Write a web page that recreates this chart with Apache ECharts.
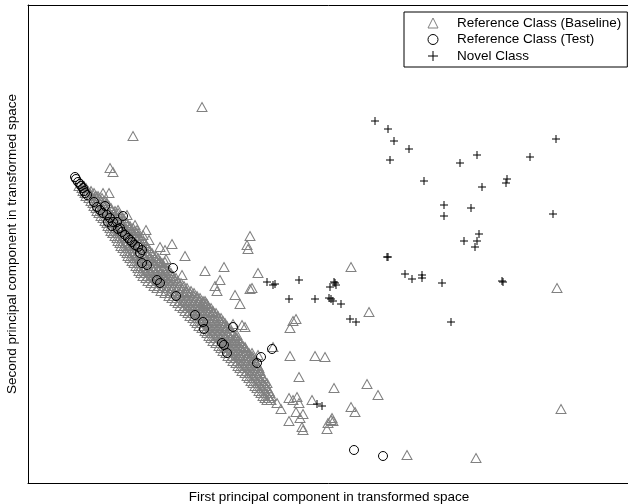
<!DOCTYPE html>
<html>
<head>
<meta charset="utf-8">
<script src="https://cdn.jsdelivr.net/npm/echarts@6/dist/echarts.min.js"></script>
<style>
html,body{margin:0;padding:0;background:#fff;}
#chart{width:628px;height:504px;}
</style>
</head>
<body>
<div id="chart"></div>
<script>
// Axis labels / legend names
const seriesNames = ['Reference Class (Baseline)', 'Reference Class (Test)', 'Novel Class'];
const xAxisTitle = 'First principal component in transformed space';
const yAxisTitle = 'Second principal component in transformed space';

// Reference Class (Baseline): dense diagonal band (main rows)
const baselineBandA = [
  [51,297],[56,297],
  [55,292],[60,292],[63,292],
  [58,287],[63,287],[68,287],[70,287],
  [63,282],[68,282],[73,282],[77,282],
  [66,277],[71,277],[76,277],[81,277],
  [69,272],[74,272],[79,272],[84,272],[87,272],
  [73,267],[78,267],[83,267],[88,267],[93,267],
  [77,262],[82,262],[87,262],[92,262],[97,262],
  [80,257],[85,257],[90,257],[95,257],[100,257],[102,257],
  [83,252],[88,252],[93,252],[98,252],[103,252],[107,252],
  [87,247],[92,247],[97,247],[102,247],[107,247],[111,247],
  [90,242],[95,242],[100,242],[105,242],[110,242],[115,242],
  [93,237],[98,237],[103,237],[108,237],[113,237],[118,237],
  [97,232],[102,232],[107,232],[112,232],[117,232],[122,232],
  [100,227],[105,227],[110,227],[115,227],[120,227],[125,227],[128,227],
  [104,222],[109,222],[114,222],[119,222],[124,222],[129,222],[132,222],
  [108,217],[113,217],[118,217],[123,217],[128,217],[133,217],[136,217],
  [111,212],[116,212],[121,212],[126,212],[131,212],[136,212],[141,212],
  [115,207],[120,207],[125,207],[130,207],[135,207],[140,207],[145,207],
  [120,202],[125,202],[130,202],[135,202],[140,202],[145,202],[150,202],
  [126,197],[131,197],[136,197],[141,197],[146,197],[151,197],[156,197],
  [133,192],[138,192],[143,192],[148,192],[153,192],[158,192],[163,192],
  [141,187],[146,187],[151,187],[156,187],[161,187],[166,187],[169,187],
  [147,182],[152,182],[157,182],[162,182],[167,182],[172,182],[175,182],
  [152,177],[157,177],[162,177],[167,177],[172,177],[177,177],[180,177],
  [157,172],[162,172],[167,172],[172,172],[177,172],[182,172],[185,172],
  [162,167],[167,167],[172,167],[177,167],[182,167],[187,167],[190,167],
  [167,162],[172,162],[177,162],[182,162],[187,162],[192,162],[195,162],
  [171,157],[176,157],[181,157],[186,157],[191,157],[196,157],[199,157],
  [177,152],[182,152],[187,152],[192,152],[197,152],[203,152],
  [181,147],[186,147],[191,147],[196,147],[201,147],[207,147],
  [185,142],[190,142],[195,142],[200,142],[205,142],[211,142],
  [191,137],[196,137],[201,137],[206,137],[211,137],[215,137],
  [195,132],[200,132],[205,132],[210,132],[215,132],[219,132],
  [200,127],[205,127],[210,127],[215,127],[220,127],[224,127],
  [205,122],[210,122],[215,122],[220,122],[225,122],[227,122],
  [210,117],[215,117],[220,117],[225,117],[230,117],
  [214,112],[219,112],[224,112],[229,112],[232,112],
  [219,107],[224,107],[229,107],[234,107],
  [223,102],[228,102],[233,102],[237,102],
  [227,97],[232,97],[237,97],
  [231,92],[236,92],[241,92],
  [235,87],[240,87],[243,87],
  [239,83],[243,83]
];

// Reference Class (Baseline): dense diagonal band (in-between rows)
const baselineBandB = [
  [54,295],[58,295],
  [57,290],[62,290],[66,290],
  [61,285],[66,285],[71,285],[74,285],
  [65,280],[70,280],[75,280],[79,280],
  [68,275],[73,275],[78,275],[83,275],
  [71,270],[76,270],[81,270],[86,270],[90,270],
  [75,265],[80,265],[85,265],[90,265],[95,265],
  [79,260],[84,260],[89,260],[94,260],[99,260],
  [82,255],[87,255],[92,255],[97,255],[102,255],[105,255],
  [85,250],[90,250],[95,250],[100,250],[105,250],[109,250],
  [89,245],[94,245],[99,245],[104,245],[109,245],[114,245],
  [92,240],[97,240],[102,240],[107,240],[112,240],[117,240],
  [95,235],[100,235],[105,235],[110,235],[115,235],[120,235],
  [99,230],[104,230],[109,230],[114,230],[119,230],[124,230],
  [102,225],[107,225],[112,225],[117,225],[122,225],[127,225],[130,225],
  [106,220],[111,220],[116,220],[121,220],[126,220],[131,220],[134,220],
  [110,215],[115,215],[120,215],[125,215],[130,215],[135,215],[139,215],
  [113,210],[118,210],[123,210],[128,210],[133,210],[138,210],[143,210],
  [118,205],[123,205],[128,205],[133,205],[138,205],[143,205],[148,205],
  [123,200],[128,200],[133,200],[138,200],[143,200],[148,200],[153,200],
  [129,195],[134,195],[139,195],[144,195],[149,195],[154,195],[159,195],
  [137,190],[142,190],[147,190],[152,190],[157,190],[162,190],[166,190],
  [144,185],[149,185],[154,185],[159,185],[164,185],[169,185],[172,185],
  [150,180],[155,180],[160,180],[165,180],[170,180],[175,180],[178,180],
  [155,175],[160,175],[165,175],[170,175],[175,175],[180,175],[183,175],
  [160,170],[165,170],[170,170],[175,170],[180,170],[185,170],[188,170],
  [165,165],[170,165],[175,165],[180,165],[185,165],[190,165],[193,165],
  [169,160],[174,160],[179,160],[184,160],[189,160],[194,160],[197,160],
  [174,155],[179,155],[184,155],[189,155],[194,155],[199,155],[202,155],
  [179,150],[184,150],[189,150],[194,150],[199,150],[205,150],
  [183,145],[188,145],[193,145],[198,145],[203,145],[209,145],
  [188,140],[193,140],[198,140],[203,140],[208,140],[213,140],
  [193,135],[198,135],[203,135],[208,135],[213,135],[217,135],
  [198,130],[203,130],[208,130],[213,130],[217,130],[221,130],
  [203,125],[208,125],[213,125],[218,125],[222,125],[225,125],
  [208,120],[213,120],[218,120],[223,120],[228,120],
  [212,115],[217,115],[222,115],[227,115],[231,115],
  [217,110],[222,110],[227,110],[232,110],
  [221,105],[226,105],[231,105],[235,105],
  [225,100],[230,100],[235,100],[239,100],
  [229,95],[234,95],[239,95],
  [233,90],[238,90],[242,90],
  [237,85],[241,85]
];

// Reference Class (Baseline): scattered points
const baselineScatter = [
  [174,376],[105,347],[82,315],[85,311],[75,290],[81,290],[90,273],[99,268],
  [107,258],[109,253],[118,253],[115,248],[121,243],[85,250],[132,236],[137,233],
  [144,239],[138,224],[157,227],[137,221],[135,208],[154,208],[177,212],[187,197],
  [196,216],[192,203],[189,192],[159,191],[177,182],[179,179],[174,175],[185,171],
  [230,210],[224,195],[222,194],[207,188],[212,179],[205,159],[214,158],[217,156],
  [209,148],[207,143],[217,136],[212,128],[224,130],[230,128],[222,247],[219,238],
  [220,234],[268,164],[265,162],[262,155],[245,136],[262,127],[287,127],[297,126],
  [271,106],[249,80],[253,74],[261,85],[265,83],[269,86],[271,80],[284,83],
  [268,71],[275,69],[261,62],[272,65],[274,56],[275,53],[323,216],[529,195],
  [341,171],[306,95],[339,99],[350,88],[323,76],[327,71],[304,65],[305,62],
  [300,60],[299,54],[303,63],[533,74],[379,28],[448,25]
];

// Reference Class (Test)
const testPoints = [
  [47,306],[48,304],[50,301],[52,299],[53,297],[55,295],[56,292],[57,290],[59,288],
  [66,281],[69,276],[72,273],[77,277],[75,270],[79,268],[82,265],[95,267],[80,261],
  [84,257],[85,261],[89,261],[92,255],[90,254],[94,251],[97,248],[100,245],[102,243],
  [104,241],[107,238],[110,236],[114,233],[112,230],[114,220],[119,218],[145,215],
  [129,203],[132,200],[148,187],[167,168],[175,161],[176,154],[205,156],[194,140],
  [196,138],[199,130],[244,134],[233,126],[229,120],[326,33],[355,27]
];

// Novel Class
const novelPoints = [
  [347,362],[360,354],[366,342],[381,334],[362,323],[396,302],[416,278],[416,267],
  [528,344],[449,328],[432,320],[502,326],[479,304],[478,300],[454,296],[443,275],
  [525,269],[451,249],[449,242],[436,242],[447,236],[414,200],[474,202],[475,201],
  [359,226],[360,226],[377,209],[384,204],[394,208],[394,205],[306,201],[308,198],
  [307,200],[302,196],[301,185],[303,184],[305,182],[313,179],[322,164],[328,161],
  [423,161],[239,201],[245,198],[247,199],[271,203],[261,184],[287,184],[289,79],[294,77]
];

const FONT = 'Liberation Sans, Arial, sans-serif';
const chart = echarts.init(document.getElementById('chart'), null, {renderer: 'canvas'});
const hiddenAxis = {
  axisTick: {show: false}, axisLabel: {show: false}, splitLine: {show: false},
  axisLine: {show: true, onZero: false, lineStyle: {color: '#000', width: 1}}
};
chart.setOption({
  animation: false,
  backgroundColor: '#fff',
  grid: {left: 28, top: 5, right: -2, bottom: 21, containLabel: false, outerBoundsMode: 'none'},
  xAxis: [
    Object.assign({type: 'value', min: 0, max: 602, position: 'bottom',
      name: xAxisTitle, nameLocation: 'middle', nameGap: 7,
      nameTextStyle: {fontFamily: FONT, fontSize: 13.5, color: '#000'}}, hiddenAxis),
    Object.assign({type: 'value', min: 0, max: 602, position: 'top'}, hiddenAxis)
  ],
  yAxis: [
    Object.assign({type: 'value', min: 0, max: 478, position: 'left',
      name: yAxisTitle, nameLocation: 'middle', nameGap: 8.5,
      nameTextStyle: {fontFamily: FONT, fontSize: 13.5, color: '#000'}}, hiddenAxis)
  ],
  legend: {
    orient: 'vertical', left: 404, top: 12,
    padding: [4, 6, 4, 23.5], itemWidth: 10, itemHeight: 10, itemGap: 2.5,
    symbolKeepAspect: true,
    borderColor: '#000', borderWidth: 1, borderRadius: 0, backgroundColor: '#fff',
    textStyle: {fontFamily: FONT, fontSize: 13.5, color: '#000', padding: [0, 0, 0, 14]},
    itemStyle: {borderWidth: 1},
    selectedMode: false,
    data: seriesNames
  },
  series: [
    {
      name: seriesNames[0], type: 'scatter', xAxisIndex: 0, yAxisIndex: 0,
      symbol: 'triangle', symbolSize: [10, 9],
      itemStyle: {color: 'rgba(0,0,0,0)', borderColor: '#808080', borderWidth: 1, opacity: 1},
      emphasis: {disabled: true},
      data: baselineBandA.concat(baselineBandB, baselineScatter)
    },
    {
      name: seriesNames[1], type: 'scatter', xAxisIndex: 0, yAxisIndex: 0,
      symbol: 'circle', symbolSize: 9,
      itemStyle: {color: 'rgba(0,0,0,0)', borderColor: '#000', borderWidth: 1, opacity: 1},
      emphasis: {disabled: true},
      data: testPoints
    },
    {
      name: seriesNames[2], type: 'scatter', xAxisIndex: 0, yAxisIndex: 0,
      symbol: 'path://M0,5L10,5M5,0L5,10', symbolSize: 8,
      itemStyle: {color: 'rgba(0,0,0,0)', borderColor: '#000', borderWidth: 1, opacity: 1},
      emphasis: {disabled: true},
      data: novelPoints
    }
  ]
});
</script>
</body>
</html>
